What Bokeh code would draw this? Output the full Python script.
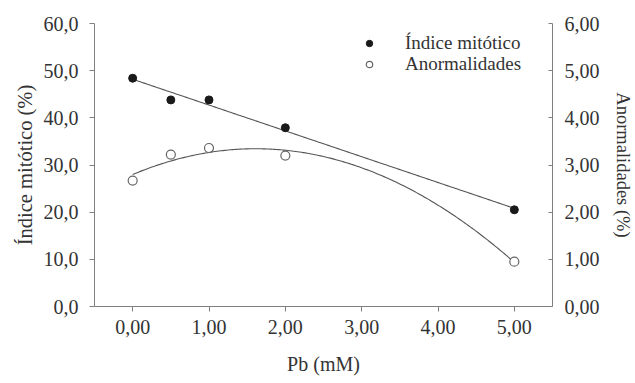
import numpy as np
from bokeh.plotting import figure
from bokeh.models import Range1d, LinearAxis, CustomJSTickFormatter, FixedTicker, Legend, LegendItem, ColumnDataSource
from bokeh.embed import file_html
from bokeh.resources import INLINE

# Data
pb_mM = [0.0, 0.5, 1.0, 2.0, 5.0]
indice_mitotico = [48.4, 43.8, 43.8, 37.9, 20.5]
anormalidades = [2.67, 3.22, 3.36, 3.20, 0.95]
x_ticks = [0, 1, 2, 3, 4, 5]
left_ticks = [0, 10, 20, 30, 40, 50, 60]
right_ticks = [0, 1, 2, 3, 4, 5, 6]

FONT = "'Liberation Serif', 'Times New Roman', serif"
TXT = "#333333"
AX = "#808080"
FS = "20px"

p = figure(width=635, height=383, output_backend="svg", toolbar_location=None,
           x_range=Range1d(-0.5, 5.5), y_range=Range1d(0, 60),
           min_border_left=94, min_border_right=81, min_border_top=23, min_border_bottom=77)
p.extra_y_ranges = {"right": Range1d(0, 6)}
p.outline_line_color = None
p.xgrid.visible = False
p.ygrid.visible = False
p.background_fill_color = "white"

# trend lines (fits from data)
xs = np.linspace(0, 5, 200)
lin = np.polyfit(pb_mM, indice_mitotico, 1)
quad = np.polyfit(pb_mM, anormalidades, 2)
p.line(xs, np.polyval(lin, xs), line_color="#555555", line_width=1.1)
p.line(xs, np.polyval(quad, xs), line_color="#555555", line_width=1.1, y_range_name="right")

src = ColumnDataSource(dict(x=pb_mM, im=indice_mitotico, an=anormalidades))
r1 = p.scatter("x", "im", source=src, size=8, fill_color="#1a1a1a", line_color="#1a1a1a")
r2 = p.scatter("x", "an", source=src, size=9, fill_color="white", line_color="#666666",
               line_width=1.2, y_range_name="right")

def style_axis(ax, fmt_digits, ticks, tin=0, tout=5):
    ax.ticker = FixedTicker(ticks=ticks)
    ax.formatter = CustomJSTickFormatter(code="return tick.toFixed(%d).replace('.', ',');" % fmt_digits)
    ax.axis_line_color = AX
    ax.major_tick_line_color = AX
    ax.minor_tick_line_color = None
    ax.major_tick_out = tout
    ax.major_tick_in = tin
    ax.major_label_text_font = FONT
    ax.major_label_text_font_size = FS
    ax.major_label_text_color = TXT
    ax.axis_label_text_font = FONT
    ax.axis_label_text_font_size = FS
    ax.axis_label_text_font_style = "normal"
    ax.axis_label_text_color = TXT
    ax.major_label_standoff = 8

xa = p.xaxis[0]
style_axis(xa, 2, x_ticks)
xa.axis_label = "Pb (mM)"
xa.axis_label_standoff = 16

ya = p.yaxis[0]
style_axis(ya, 1, left_ticks)
ya.axis_label = "Índice mitótico (%)"
ya.axis_label_text_font_size = "20.5px"
ya.major_label_standoff = 11
ya.axis_label_standoff = 5

ra = LinearAxis(y_range_name="right", axis_label="Anormalidades (%)")
style_axis(ra, 2, right_ticks, tin=4, tout=0)
ra.axis_label_text_font_size = "18.5px"
ra.major_label_standoff = 12
ra.axis_label_standoff = 10
p.add_layout(ra, "right")

legend_kw = dict(padding=0, margin=0, spacing=0,
                 glyph_width=16, glyph_height=16, label_height=16, label_standoff=28,
                 border_line_color=None, background_fill_alpha=0,
                 label_text_font=FONT, label_text_font_size="19px", label_text_color=TXT)
leg1 = Legend(items=[LegendItem(label="Índice mitótico", renderers=[r1])],
              location=(267, 252), **legend_kw)
leg2 = Legend(items=[LegendItem(label="Anormalidades", renderers=[r2])],
              location=(267, 231), **legend_kw)
p.add_layout(leg1, "center")
p.add_layout(leg2, "center")

open("out.html", "w").write(file_html(p, INLINE))
